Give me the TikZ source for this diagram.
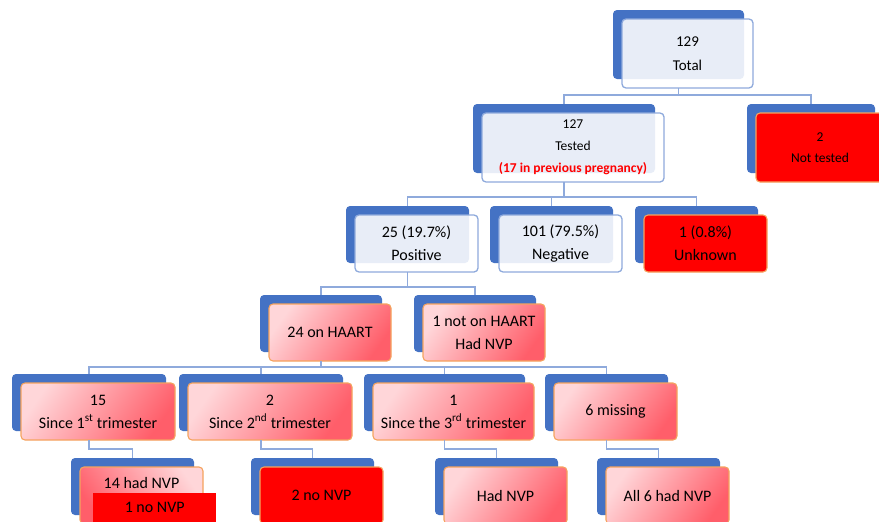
\documentclass[tikz,border=0pt]{standalone}
\usepackage{fontspec}
\setmainfont{Carlito}
\usetikzlibrary{calc}
\definecolor{backblue}{HTML}{4472C4}
\definecolor{lineblue}{HTML}{8FAADC}
\definecolor{pinkL}{HTML}{FFD6D9}
\definecolor{pinkD}{HTML}{FF5E6A}
\definecolor{orangeB}{HTML}{F5A35E}
\definecolor{redF}{HTML}{FF0000}
\newcommand\nfont{\fontsize{16}{23}\selectfont}
\tikzset{
 backbox/.style={fill=backblue, rounded corners=4pt, inner sep=0pt, outer sep=0pt},
 lightbox/.style={fill=white, fill opacity=0.88, text opacity=1, draw=lineblue, line width=1.3pt, rounded corners=4pt, align=center, inner sep=2pt, outer sep=0pt},
 pinkbox/.style={top color=pinkL, bottom color=pinkD, shading angle=55, draw=orangeB, line width=1.1pt, rounded corners=4pt, align=center, inner sep=2pt, outer sep=0pt},
 pinkboxr/.style={pinkbox, shading angle=-55},
 redbox/.style={fill=redF, draw=orangeB, line width=1.1pt, rounded corners=4pt, align=center, inner sep=2pt, outer sep=0pt},
 conn/.style={draw=lineblue, line width=1.3pt},
}
\newcommand\dualbox[8]{%
  \node[backbox, minimum width=#4pt, minimum height=#5pt, anchor=north west] (#1b) at (#2,#3) {};
  \node[#6, minimum width=#4pt, minimum height=#5pt, anchor=north west, font=#7] (#1) at (#2+9,#3+9) {#8};
}
\begin{document}
\begin{tikzpicture}[x=1pt, y=-1pt]
\path[use as bounding box] (0,0) rectangle (879,522);
\clip (0,0) rectangle (879,522);
\fill[white] (0,0) rectangle (879,522);

\dualbox{total}{613}{10}{131}{69}{lightbox}{\fontsize{15}{24}\selectfont}{129\\Total}
\dualbox{tested}{473}{104}{182}{69}{lightbox}{\fontsize{13.5}{22}\selectfont}{127\\Tested\\\textcolor{redF}{\textbf{(17 in previous pregnancy)}}}
\dualbox{nottested}{747}{104}{128}{69}{redbox}{\fontsize{13.5}{21}\selectfont}{2\\Not tested}
\dualbox{pos}{346}{206}{123}{57}{lightbox}{\nfont}{25 (19.7\%)\\Positive}
\dualbox{neg}{490}{206}{123}{57}{lightbox}{\nfont}{101 (79.5\%)\\Negative}
\dualbox{unk}{635}{206}{123}{57}{redbox}{\nfont}{1 (0.8\%)\\Unknown}
\dualbox{haart}{260}{295}{122}{57}{pinkbox}{\nfont}{24 on HAART}
\dualbox{nohaart}{414}{295}{122}{57}{pinkbox}{\nfont}{1 not on HAART\\Had NVP}
\dualbox{tri1}{12}{374}{154}{57}{pinkbox}{\nfont}{15\\Since 1\textsuperscript{st} trimester}
\dualbox{tri2}{179}{374}{164}{57}{pinkbox}{\nfont}{2\\Since 2\textsuperscript{nd} trimester}
\dualbox{tri3}{364}{374}{161}{57}{pinkbox}{\nfont}{1\\Since the 3\textsuperscript{rd} trimester}
\dualbox{miss}{545}{374}{123}{57}{pinkbox}{\nfont}{6 missing}
\dualbox{nvp14}{71}{458}{123}{57}{pinkboxr}{\nfont}{}
\dualbox{nonvp2}{251}{458}{123}{57}{redbox}{\nfont}{2 no NVP}
\dualbox{hadnvp}{435}{458}{123}{57}{pinkbox}{\nfont}{Had NVP}
\dualbox{all6}{597}{458}{123}{57}{pinkbox}{\nfont}{All 6 had NVP}

\node[font=\nfont, inner sep=0pt] (t14) at (141.5,483) {14 had NVP};
\node[fill=redF, anchor=north west, minimum width=123pt, minimum height=29pt, inner sep=0pt, font=\nfont] (nonvp1) at (93,493) {1 no NVP};

\coordinate (bus0) at (0,95);
\coordinate (bus1) at (0,197);
\coordinate (bus2) at (0,287);
\coordinate (bus3) at (0,367);
\coordinate (bus4) at (0,449);

\draw[conn] (totalb.center |- total.south) -- (totalb.center |- bus0) -| (testedb.north);
\draw[conn] (totalb.center |- bus0) -| (nottestedb.north);

\draw[conn] (testedb.center |- tested.south) -- (testedb.center |- bus1) -| (posb.north);
\draw[conn] (testedb.center |- bus1) -| (negb.north);
\draw[conn] (testedb.center |- bus1) -| (unkb.north);

\draw[conn] (posb.center |- pos.south) -- (posb.center |- bus2) -| (haartb.north);
\draw[conn] (posb.center |- bus2) -| (nohaartb.north);

\draw[conn] (haartb.center |- haart.south) -- (haartb.center |- bus3) -| (tri1b.north);
\draw[conn] (haartb.center |- bus3) -| (tri2b.north);
\draw[conn] (haartb.center |- bus3) -| (tri3b.north);
\draw[conn] (haartb.center |- bus3) -| (missb.north);

\draw[conn] (tri1b.center |- tri1.south) -- (tri1b.center |- bus4) -| (nvp14b.north);
\draw[conn] (tri2b.center |- tri2.south) -- (tri2b.center |- bus4) -| (nonvp2b.north);
\draw[conn] (tri3b.center |- tri3.south) -- (tri3b.center |- bus4) -| (hadnvpb.north);
\draw[conn] (missb.center |- miss.south) -- (missb.center |- bus4) -| (all6b.north);
\end{tikzpicture}
\end{document}
